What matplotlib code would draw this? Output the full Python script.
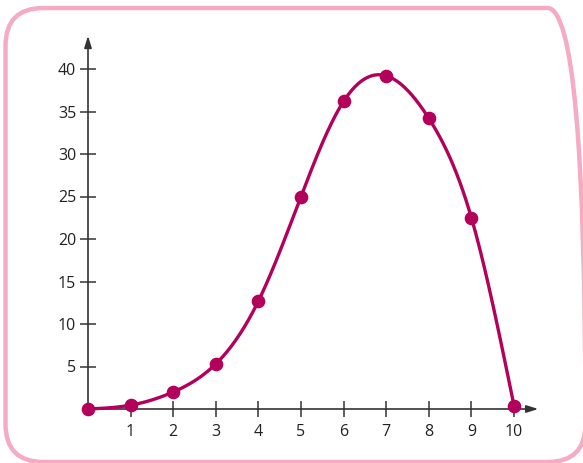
import numpy as np
import matplotlib
matplotlib.use("Agg")
import matplotlib.pyplot as plt
from matplotlib.patches import FancyBboxPatch
from matplotlib.transforms import IdentityTransform

# Data
x_vals = [0, 1, 2, 3, 4, 5, 6, 7, 8, 9, 10]
y_vals = [0.0, 0.45, 2.0, 5.3, 12.7, 25.0, 36.2, 39.2, 34.2, 22.5, 0.4]
x_ticks = [1, 2, 3, 4, 5, 6, 7, 8, 9, 10]
y_ticks = [5, 10, 15, 20, 25, 30, 35, 40]

LINE = '#b3005a'
AXC = '#333333'
TXT = '#222222'
BORDER = '#f5abc2'


def natural_spline(x, y, xs):
    x = np.asarray(x, float); y = np.asarray(y, float)
    n = len(x)
    h = np.diff(x)
    A = np.zeros((n, n)); b = np.zeros(n)
    A[0, 0] = 1; A[-1, -1] = 1
    for i in range(1, n - 1):
        A[i, i - 1] = h[i - 1]
        A[i, i] = 2 * (h[i - 1] + h[i])
        A[i, i + 1] = h[i]
        b[i] = 3 * ((y[i + 1] - y[i]) / h[i] - (y[i] - y[i - 1]) / h[i - 1])
    c = np.linalg.solve(A, b)
    out = np.empty_like(xs)
    for k, xv in enumerate(xs):
        i = min(np.searchsorted(x, xv, side='right') - 1, n - 2)
        i = max(i, 0)
        bb = (y[i + 1] - y[i]) / h[i] - h[i] * (2 * c[i] + c[i + 1]) / 3
        dd = (c[i + 1] - c[i]) / (3 * h[i])
        dx = xv - x[i]
        out[k] = y[i] + bb * dx + c[i] * dx ** 2 + dd * dx ** 3
    return out


W, H = 583, 463
fig = plt.figure(figsize=(W / 100, H / 100), dpi=100)
fig.patch.set_facecolor('white')

# rounded border (pixel coords, origin bottom-left)
box = FancyBboxPatch((5.5, 1.0), 580, 454, boxstyle="round,pad=0,rounding_size=38",
                     transform=IdentityTransform(), facecolor='none',
                     edgecolor=BORDER, linewidth=3.2, zorder=0)
fig.patches.append(box)

ax = fig.add_axes([88 / W, (H - 409) / H, 426 / W, 340 / H])
ax.set_xlim(0, 10)
ax.set_ylim(0, 40)
ax.patch.set_alpha(0)
for s in ax.spines.values():
    s.set_visible(False)

# axes with arrows
ax.annotate('', xy=(0, 43.9), xytext=(0, 0), xycoords='data',
            arrowprops=dict(arrowstyle='-|>,head_length=0.7,head_width=0.22',
                            color=AXC, lw=1.2, shrinkA=0, shrinkB=0),
            annotation_clip=False)
ax.annotate('', xy=(10.57, 0), xytext=(0, 0), xycoords='data',
            arrowprops=dict(arrowstyle='-|>,head_length=0.7,head_width=0.22',
                            color=AXC, lw=1.2, shrinkA=0, shrinkB=0),
            annotation_clip=False)

ax.set_xticks(x_ticks)
ax.set_yticks(y_ticks)
ax.set_xticklabels([str(v) for v in x_ticks])
ax.set_yticklabels([str(v) for v in y_ticks])
ax.tick_params(axis='both', direction='inout', length=11, width=1.1, color=AXC,
               labelcolor=TXT, labelsize=11.5)
ax.tick_params(axis='y', pad=3)
ax.tick_params(axis='x', pad=5)
for lab in ax.get_xticklabels() + ax.get_yticklabels():
    lab.set_fontfamily(['Open Sans', 'DejaVu Sans'])

xs = np.linspace(0, 10, 400)
ys = natural_spline(x_vals, y_vals, xs)
ax.plot(xs, ys, color=LINE, lw=2.4, clip_on=False, zorder=3, solid_capstyle='round')
ax.plot(x_vals, y_vals, 'o', color=LINE, markersize=8.8, clip_on=False, zorder=4)

fig.savefig('out.png', dpi=100, facecolor='white')
